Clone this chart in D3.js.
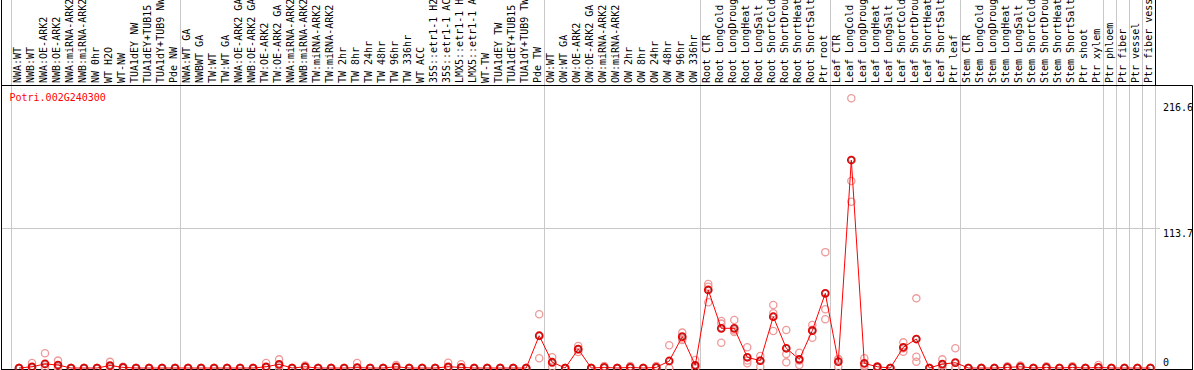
<!DOCTYPE html>
<html><head><meta charset="utf-8">
<script src="https://cdn.jsdelivr.net/npm/d3@7"></script>
<style>html,body{margin:0;padding:0;background:#fff;overflow:hidden}</style>
</head><body>
<script>
const geneId = "Potri.002G240300";
const sampleLabels = [
"NWA:WT","NWB:WT","NWA:OE-ARK2","NWB:OE-ARK2","NWA:miRNA-ARK2","NWB:miRNA-ARK2","NW 0hr","WT H2O","WT-NW","TUA1dEY NW","TUA1dEY+TUB15 NW","TUA1dY+TUB9 NW","Pde NW",
"NWA:WT GA","NWBWT GA","TW:WT","TW:WT GA","NWA:OE-ARK2 GA","NWB:OE-ARK2 GA","TW:OE-ARK2","TW:OE-ARK2 GA","NWA:miRNA-ARK2","NWB:miRNA-ARK2","TW:miRNA-ARK2","TW:miRNA-ARK2","TW 2hr","TW 8hr","TW 24hr","TW 48hr","TW 96hr","TW 336hr","WT ACC","35S::etr1-1 H2O","35S::etr1-1 ACC","LMX5::etr1-1 H2O","LMX5::etr1-1 ACC","WT-TW","TUA1dEY TW","TUA1dEY+TUB15 TW","TUA1dY+TUB9 TW","Pde TW",
"OW:WT","OW:WT GA","OW:OE-ARK2","OW:OE-ARK2 GA","OW:miRNA-ARK2","OW:miRNA-ARK2","OW 2hr","OW 8hr","OW 24hr","OW 48hr","OW 96hr","OW 336hr",
"Root CTR","Root LongCold","Root LongDrought","Root LongHeat","Root LongSalt","Root ShortCold","Root ShortDrought","Root ShortHeat","Root ShortSalt","Ptr root",
"Leaf CTR","Leaf LongCold","Leaf LongDrought","Leaf LongHeat","Leaf LongSalt","Leaf ShortCold","Leaf ShortDrought","Leaf ShortHeat","Leaf ShortSalt","Ptr leaf",
"Stem CTR","Stem LongCold","Stem LongDrought","Stem LongHeat","Stem LongSalt","Stem ShortCold","Stem ShortDrought","Stem ShortHeat","Stem ShortSalt","Ptr shoot","Ptr xylem",
"Ptr phloem","Ptr fiber","Ptr vessel","Ptr fiber vessel"
];
const groupSizes = [13, 28, 12, 10, 10, 11, 1, 1, 1, 1];
const meanValues = [
0,1,3.3,2.4,0,0,0,2,0.5,0,0,0,0,
0,0,0,0,0,0,1,3,0,1,0,0,0,0.3,0,0,1,0,0,0,1,0.5,0,0,0,0,0,26.2,
4.7,0,15.3,0,0.5,0,0.5,0,0.5,5.7,25.4,2.2,
63.3,32.2,32.2,8.7,5.9,41.6,16,7,30.3,60.6,
5.1,168.7,3.8,1,0,16.8,23.5,0,3.2,4.3,
0,0,0,0.5,1,0,0.5,0,0.5,0,0.5,
0,0,0,0
];
const rep1 = [
0,4,12,6,0,0,0,5,1,0,0,0,0,
0,0,0,0,0,0,4,7,0,2,0,0,0,4,0,0,2.5,0,0,0,4.3,3,0,0,0,0,0,43.6,
8.7,0,17.8,0,1.6,0,1.6,0,1.6,18.4,28.7,6.5,
68.1,38.1,38.9,16.8,9.7,51.1,30.8,12.4,34.9,94,
7.3,218.8,7.9,1.5,0,20.8,56.5,0,7,16,
0,0,0,1.5,2,0,1.5,0,1.5,0,2.5,
0,0,0,0
];
const rep2 = [
0,0,1,1,0,0,0,1,0,0,0,0,0,
0,0,0,0,0,0,0,2,0,1,0,0,0,0,0,0,0.5,0,0,0,0,0,0,0,0,0,0,26,
4,0,15,0,0,0,0,0,0,0,24,0,
66,36,30.5,6,6,44.4,11.4,6,31,47.6,
7,151.7,2,0,0,16,9.2,0,2,0,
0,0,0,0,1,0,0,0,0,0,0,
0,0,0,0
];
const rep3 = [
0,0,0,0,0,0,0,0,0,0,0,0,0,
0,0,0,0,0,0,0,0,0,0,0,0,0,0,0,0,0,0,0,0,0,0,0,0,0,0,0,7.9,
1,0,13,0,0,0,0,0,0,0,22.7,0,
53.3,20.5,29.2,3.8,1,30,4.6,2.4,24.6,39.5,
1,134.9,1,0,0,13.2,5.1,0,0,0,
0,0,0,0,0,0,0,0,0,0,0,
0,0,0,0
];
const axisTicks = [0, 113.7, 216.6];

const W = 1194, H = 370;
const svg = d3.select("body").append("svg").attr("width", W).attr("height", H)
  .style("display","block");
const mono = "'DejaVu Sans Mono', 'Liberation Mono', monospace";

const n = sampleLabels.length;
const x = d3.scaleLinear().domain([0, n - 1]).range([19, 19 + 13.005 * (n - 1)]);
const y = d3.scaleLinear().domain([0, 216.6]).range([368, 101]);

const headerBottom = 85.5, plotBottom = 368.5, leftEdge = 1.5, rightEdge = 1192.5, plotRight = 1160;

// group separators
let starts = [0];
groupSizes.forEach(s => starts.push(starts[starts.length - 1] + s));
const sepX = k => Math.round(x(k) - 8.5) + 0.5;
svg.append("g").selectAll("line").data(starts).join("line")
  .attr("x1", d => sepX(d)).attr("x2", d => sepX(d))
  .attr("y1", 0).attr("y2", plotBottom)
  .attr("stroke", "#c8c8c8").attr("stroke-width", 1);
// black separator in header after last column
svg.append("line").attr("x1", sepX(n)).attr("x2", sepX(n)).attr("y1", 0).attr("y2", headerBottom)
  .attr("stroke", "#000");

// horizontal grid line
svg.append("line").attr("x1", leftEdge).attr("x2", plotRight)
  .attr("y1", Math.round(y(113.7)) + 0.5).attr("y2", Math.round(y(113.7)) + 0.5)
  .attr("stroke", "#c8c8c8");

// borders
svg.append("line").attr("x1", leftEdge).attr("x2", leftEdge).attr("y1", 0).attr("y2", H).attr("stroke", "#000");
svg.append("line").attr("x1", leftEdge).attr("x2", rightEdge).attr("y1", headerBottom).attr("y2", headerBottom).attr("stroke", "#000");
svg.append("line").attr("x1", leftEdge).attr("x2", rightEdge).attr("y1", plotBottom + 1).attr("y2", plotBottom + 1).attr("stroke", "#000");
svg.append("line").attr("x1", rightEdge).attr("x2", rightEdge).attr("y1", headerBottom).attr("y2", H).attr("stroke", "#000");

// sample labels
svg.append("g").selectAll("text").data(sampleLabels).join("text")
  .attr("transform", (d, i) => `translate(${x(i) + 2},83) rotate(-90)`)
  .attr("font-family", mono).attr("font-size", 10).attr("fill", "#000")
  .text(d => d);

// gene id
svg.append("text").attr("x", 9.5).attr("y", 101).attr("font-family", mono)
  .attr("font-size", 10).attr("fill", "#ff0000").text(geneId);

// axis labels
const tickY = {0: 366, 113.7: 237, 216.6: 111};
svg.append("g").selectAll("text").data(axisTicks).join("text")
  .attr("x", 1163).attr("y", d => tickY[d])
  .attr("font-family", mono).attr("font-size", 10).attr("fill", "#000")
  .text(d => d === 0 ? "0" : d.toFixed(1));

// replicate circles
const reps = [rep1, rep2, rep3];
reps.forEach(r => {
  svg.append("g").selectAll("circle").data(r).join("circle")
    .attr("cx", (d, i) => x(i)).attr("cy", d => y(d)).attr("r", 3.6)
    .attr("fill", "none").attr("stroke", "#ee9a9a").attr("stroke-width", 1.3);
});

// mean line
svg.append("path").datum(meanValues)
  .attr("d", d3.line().x((d, i) => x(i)).y(d => y(d)))
  .attr("fill", "none").attr("stroke", "#ff0000").attr("stroke-width", 1);

// mean circles
svg.append("g").selectAll("circle").data(meanValues).join("circle")
  .attr("cx", (d, i) => x(i)).attr("cy", d => y(d)).attr("r", 3.6)
  .attr("fill", "none").attr("stroke", "#ee0000").attr("stroke-width", 1.5);
svg.append("g").selectAll("circle").data(meanValues).join("circle")
  .attr("cx", (d, i) => x(i)).attr("cy", d => y(d)).attr("r", 2.8)
  .attr("fill", "none").attr("stroke", "#700000").attr("stroke-width", 0.6);
</script>
</body></html>
